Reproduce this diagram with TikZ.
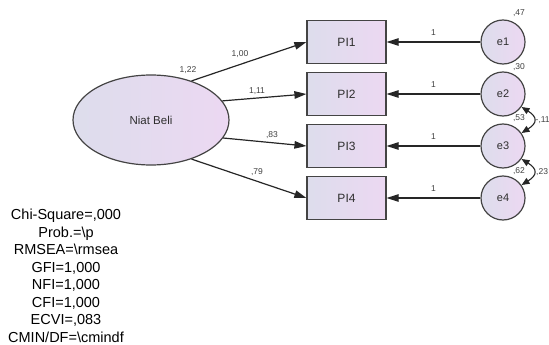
\documentclass[tikz,border=0pt]{standalone}
\usepackage{fontspec}
\setmainfont{Liberation Sans}
\usetikzlibrary{arrows.meta,calc,shapes.geometric}
\definecolor{edgec}{HTML}{444444}
\definecolor{fillL}{HTML}{DDDDEC}
\definecolor{fillR}{HTML}{ECD8F2}
\definecolor{txtc}{HTML}{2E2E2E}
\definecolor{labc}{HTML}{404040}
\begin{document}
\begin{tikzpicture}[x=1pt,y=-1pt,
  gradfill/.style={left color=fillL, right color=fillR},
  obs/.style={draw=edgec, line width=1.2pt, gradfill, minimum width=79pt,
    minimum height=43pt, inner sep=0pt, text=txtc,
    font=\fontsize{12}{14}\selectfont},
  err/.style={circle, draw=edgec, line width=1.2pt, gradfill, minimum size=44pt,
    inner sep=0pt, text=txtc, font=\fontsize{11}{13}\selectfont},
  lat/.style={ellipse, draw=edgec, line width=1.2pt, gradfill,
    minimum width=156pt, minimum height=90pt, inner sep=0pt, text=txtc,
    font=\fontsize{11.5}{13}\selectfont},
  arr/.style={draw=black!85, line width=1.2pt, -{Triangle[length=12pt,width=7.5pt]}},
  covarr/.style={draw=black!85, line width=1.1pt,
    {Triangle[length=8pt,width=6.5pt]}-{Triangle[length=8pt,width=6.5pt]}},
  coef/.style={font=\fontsize{8.5}{10}\selectfont, text=labc, inner sep=0pt},
  stats/.style={align=center, font=\fontsize{14.5}{17.5}\selectfont, text=black, inner sep=0pt}
]
\useasboundingbox (0,0) rectangle (549,345);

% latent factor
\node[lat] (nb) at (151,120) {Niat Beli};

% indicators
\node[obs] (p1) at (346.5,42)  {PI1};
\node[obs] (p2) at (346.5,94)  {PI2};
\node[obs] (p3) at (346.5,146) {PI3};
\node[obs] (p4) at (346.5,198) {PI4};

% error terms
\node[err] (e1) at (503,42)  {e1};
\node[err] (e2) at (503,94)  {e2};
\node[err] (e3) at (503,146) {e3};
\node[err] (e4) at (503,198) {e4};

% loadings
\draw[arr] (nb.44)  -- (p1.west);
\draw[arr] (nb.15)  -- (p2.west);
\draw[arr] (nb.-14) -- (p3.west);
\draw[arr] (nb.-44) -- (p4.west);

% error paths
\foreach \i in {1,...,4}{
  \draw[arr] (e\i.west) -- (p\i.east);
  \node[coef] at ($(e\i.west)!0.5!(p\i.east)+(0,-9)$) {1};
}

% error covariances
\draw[covarr] (e2.-35) .. controls +(16,10) and +(16,-10) .. (e3.35);
\draw[covarr] (e3.-35) .. controls +(16,10) and +(16,-10) .. (e4.35);

% estimates
\node[coef] at (188,70)  {1,22};
\node[coef] at (240,54)  {1,00};
\node[coef] at (257,91)  {1,11};
\node[coef] at (272,135) {,83};
\node[coef] at (257,172) {,79};

\node[coef] at ($(e1)+(16,-29)$) {,47};
\node[coef] at ($(e2)+(16,-27)$) {,30};
\node[coef] at ($(e3)+(16,-28)$) {,53};
\node[coef] at ($(e4)+(16,-27)$) {,62};

\node[coef, anchor=west] at (535.5,120) {-,11};
\node[coef, anchor=west] at (536,172) {,23};

% fit statistics
\node[stats] (fit) at (66,276) {Chi-Square=,000\\Prob.=\textbackslash p\\RMSEA=\textbackslash rmsea\\GFI=1,000\\NFI=1,000\\CFI=1,000\\ECVI=,083\\CMIN/DF=\textbackslash cmindf};
\end{tikzpicture}
\end{document}
